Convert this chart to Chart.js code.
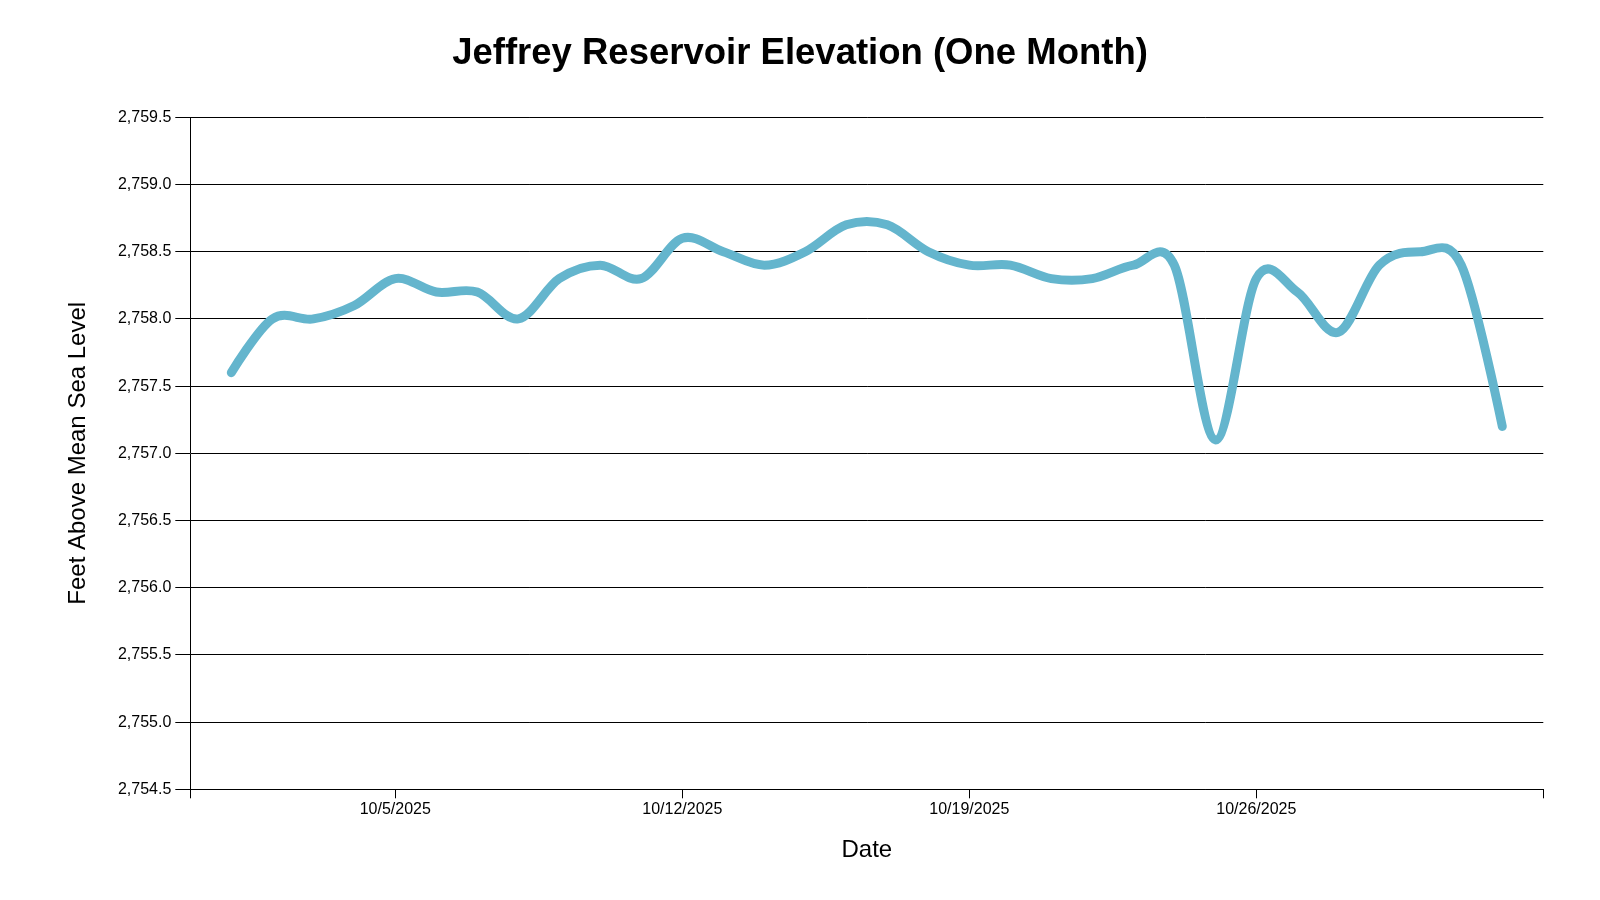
<!DOCTYPE html>
<html>
<head>
<meta charset="utf-8">
<title>Jeffrey Reservoir Elevation (One Month)</title>
<script src="https://cdn.jsdelivr.net/npm/chart.js@4.4.1/dist/chart.umd.min.js"></script>
<style>
  html, body { margin: 0; padding: 0; background: #fff; }
  #wrap { width: 1600px; height: 900px; }
</style>
</head>
<body>
<div id="wrap"><canvas id="chart" width="1600" height="900"></canvas></div>
<script>
// daily readings
const dates = [
  '10/1/2025', '10/2/2025', '10/3/2025', '10/4/2025', '10/5/2025', '10/6/2025', '10/7/2025', '10/8/2025',
  '10/9/2025', '10/10/2025', '10/11/2025', '10/12/2025', '10/13/2025', '10/14/2025', '10/15/2025', '10/16/2025',
  '10/17/2025', '10/18/2025', '10/19/2025', '10/20/2025', '10/21/2025', '10/22/2025', '10/23/2025', '10/24/2025',
  '10/25/2025', '10/26/2025', '10/27/2025', '10/28/2025', '10/29/2025', '10/30/2025', '10/31/2025', '11/1/2025'
]
const elevation = [
  2757.6, 2758.0, 2758.0, 2758.1, 2758.3, 2758.2, 2758.2, 2758.0,
  2758.3, 2758.4, 2758.3, 2758.6, 2758.5, 2758.4, 2758.5, 2758.7,
  2758.7, 2758.5, 2758.4, 2758.4, 2758.3, 2758.3, 2758.4, 2758.4,
  2757.1, 2758.3, 2758.2, 2757.9, 2758.4, 2758.5, 2758.4, 2757.2
]
const xTickDates = ['10/5/2025', '10/12/2025', '10/19/2025', '10/26/2025']
const xDomain = ['9/30/2025', '11/2/2025']
const yMin = 2754.5
const yMax = 2759.5
const yStep = 0.5

const toMs = s => { const [m, d, y] = s.split('/').map(Number); return Date.UTC(y, m - 1, d) }
const fmtDate = ms => { const t = new Date(ms); return `${t.getUTCMonth() + 1}/${t.getUTCDate()}/${t.getUTCFullYear()}` }

// uniform catmull-rom control points (cardinal, tension 0) instead of chart.js' distance weighted spline
const catmullRom = {
  id: 'catmullRom',
  beforeDatasetDraw(chart, args) {
    const line = args.meta.dataset
    line.updateControlPoints(chart.chartArea, args.meta.iScale.axis)
    const pts = line.points
    const n = pts.length
    pts.forEach((p, i) => {
      const prev = pts[Math.max(i - 1, 0)]
      const next = pts[Math.min(i + 1, n - 1)]
      const end = i === 0 || i === n - 1
      const dx = end ? 0 : (next.x - prev.x) / 6
      const dy = end ? 0 : (next.y - prev.y) / 6
      p.cp1x = p.x - dx; p.cp1y = p.y - dy
      p.cp2x = p.x + dx; p.cp2y = p.y + dy
    })
  }
}

Chart.defaults.font.family = "'Liberation Sans', Arial, sans-serif"
Chart.defaults.color = '#000'

new Chart(document.getElementById('chart'), {
  type: 'line',
  data: {
    datasets: [{
      label: 'Elevation',
      data: dates.map((d, i) => ({ x: toMs(d), y: elevation[i] })),
      borderColor: '#64b5cd',
      borderWidth: 9,
      borderCapStyle: 'round',
      borderJoinStyle: 'round',
      pointRadius: 0,
      tension: 0.4,
      fill: false
    }]
  },
  plugins: [catmullRom],
  options: {
    responsive: false,
    devicePixelRatio: 1,
    animation: false,
    layout: { padding: { left: 56.7, right: 56.7, top: 0, bottom: 0 } },
    plugins: {
      legend: { display: false },
      tooltip: { enabled: false },
      title: {
        display: true,
        text: 'Jeffrey Reservoir Elevation (One Month)',
        font: { size: 36.5, weight: 'bold' },
        color: '#000',
        padding: { top: 32, bottom: 41.5 }
      }
    },
    scales: {
      x: {
        type: 'linear',
        min: toMs(xDomain[0]),
        max: toMs(xDomain[1]),
        afterBuildTicks: scale => { scale.ticks = [...xDomain, ...xTickDates].map(toMs).sort((a, b) => a - b).map(value => ({ value })) },
        afterFit: scale => { scale.height = 110.7 },
        ticks: {
          autoSkip: false,
          maxRotation: 0,
          padding: 2,
          font: { size: 16 },
          callback: v => xTickDates.includes(fmtDate(v)) ? fmtDate(v) : ''
        },
        grid: { drawOnChartArea: false, drawTicks: true, tickLength: 9, color: '#000', lineWidth: 1 },
        border: { display: true, color: '#000', width: 1 },
        title: { display: true, text: 'Date', font: { size: 24 }, color: '#000', padding: { top: 0, bottom: 35.6 } }
      },
      y: {
        min: yMin,
        max: yMax,
        afterFit: scale => { scale.width = 133.6 },
        ticks: {
          stepSize: yStep,
          padding: 4,
          font: { size: 16 },
          callback: v => v.toLocaleString('en-US', { minimumFractionDigits: 1, maximumFractionDigits: 1 })
        },
        grid: { drawTicks: true, tickLength: 15, color: '#000', lineWidth: 1 },
        border: { display: true, color: '#000', width: 1 },
        title: { display: true, text: 'Feet Above Mean Sea Level', font: { size: 24 }, color: '#000', padding: { top: 6.9, bottom: 0 } }
      }
    }
  }
})
</script>
</body>
</html>
